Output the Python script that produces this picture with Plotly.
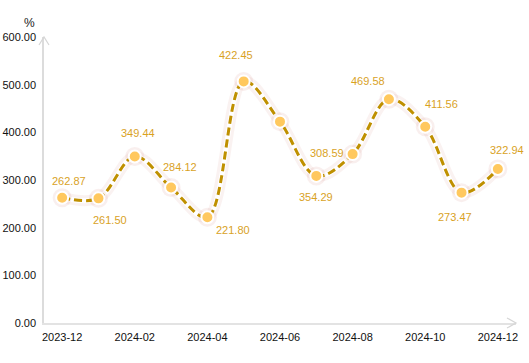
import plotly.graph_objects as go

months = ["2023-12", "2024-01", "2024-02", "2024-03", "2024-04", "2024-05", "2024-06",
          "2024-07", "2024-08", "2024-09", "2024-10", "2024-11", "2024-12"]
values = [262.87, 261.50, 349.44, 284.12, 221.80, 506.90, 422.45,
          308.59, 354.29, 469.58, 411.56, 273.47, 322.94]
tick_months = ["2023-12", "2024-02", "2024-04", "2024-06", "2024-08", "2024-10", "2024-12"]
y_ticks = [0, 100, 200, 300, 400, 500, 600]

# label offsets in pixels (dx right, dy up); None = label hidden
label_offsets = [(7, 17), (12, -22), (3, 23), (9, 21), (26, -13), None, (-44, 67),
                 (11, 23), (-37, -43), (-21, 18), (16, 23), (-7, -24), (9, 19)]

LINE = "#BF9000"
LABEL = "#D9A21F"
FONT = "Liberation Sans, Arial, sans-serif"

fig = go.Figure()
fig.add_trace(go.Scatter(x=months, y=values, mode="lines",
                         line=dict(shape="spline", color="rgba(205,130,120,0.10)", width=11),
                         hoverinfo="skip", showlegend=False))
fig.add_trace(go.Scatter(x=months, y=values, mode="lines",
                         line=dict(shape="spline", color="white", width=5),
                         hoverinfo="skip", showlegend=False))
fig.add_trace(go.Scatter(x=months, y=values, mode="markers",
                         marker=dict(size=19, color="rgba(205,130,120,0.13)"),
                         hoverinfo="skip", showlegend=False))
fig.add_trace(go.Scatter(x=months, y=values, mode="lines+markers",
                         line=dict(shape="spline", color=LINE, width=3, dash="8px,4px"),
                         marker=dict(size=12, color="#FFC85E", line=dict(color="white", width=2)),
                         showlegend=False))

for m, v, off in zip(months, values, label_offsets):
    if off is None:
        continue
    fig.add_annotation(x=m, y=v, xref="x", yref="y", text=f"{v:.2f}", showarrow=False,
                       xshift=off[0], yshift=off[1],
                       font=dict(family=FONT, size=11, color=LABEL))

fig.add_annotation(x=0, y=1, xref="paper", yref="paper", text="%", showarrow=False,
                   xshift=-22, yshift=23, font=dict(family=FONT, size=12, color="#222"))

# axis arrowheads
fig.add_shape(type="path", xref="paper", yref="paper", xsizemode="pixel", ysizemode="pixel",
              xanchor=0, yanchor=1, path="M -5 -8 L 0 0 L 5 -8",
              line=dict(color="#D6D6D6", width=1.2))
fig.add_shape(type="path", xref="paper", yref="paper", xsizemode="pixel", ysizemode="pixel",
              xanchor=1, yanchor=0, path="M -9 5 L 0 0 L -9 -5",
              line=dict(color="#D6D6D6", width=1.2))

fig.update_layout(
    width=529, height=363,
    margin=dict(l=44, r=13, t=37, b=40, autoexpand=False),
    paper_bgcolor="white", plot_bgcolor="white",
    font=dict(family=FONT, size=11, color="#222"),
    xaxis=dict(type="category", range=[-0.5, 12.5], tickmode="array",
               tickvals=tick_months, ticktext=tick_months, showgrid=False, zeroline=False,
               showline=True, linecolor="#E3E3E3", linewidth=2, ticks="", automargin=False,
               ticklabelstandoff=3, tickfont=dict(size=11, color="#111")),
    yaxis=dict(range=[0, 600], tickvals=y_ticks, ticktext=[f"{t:.2f}" for t in y_ticks],
               showgrid=False, zeroline=False, showline=True, linecolor="#DCDCDC",
               linewidth=1.5, ticks="", ticklabelstandoff=4, automargin=False,
               tickfont=dict(size=11, color="#111")),
)

fig.write_html("out.html", config={"displayModeBar": False},
               post_script="document.body.style.margin='0';document.body.style.overflow='hidden';")
